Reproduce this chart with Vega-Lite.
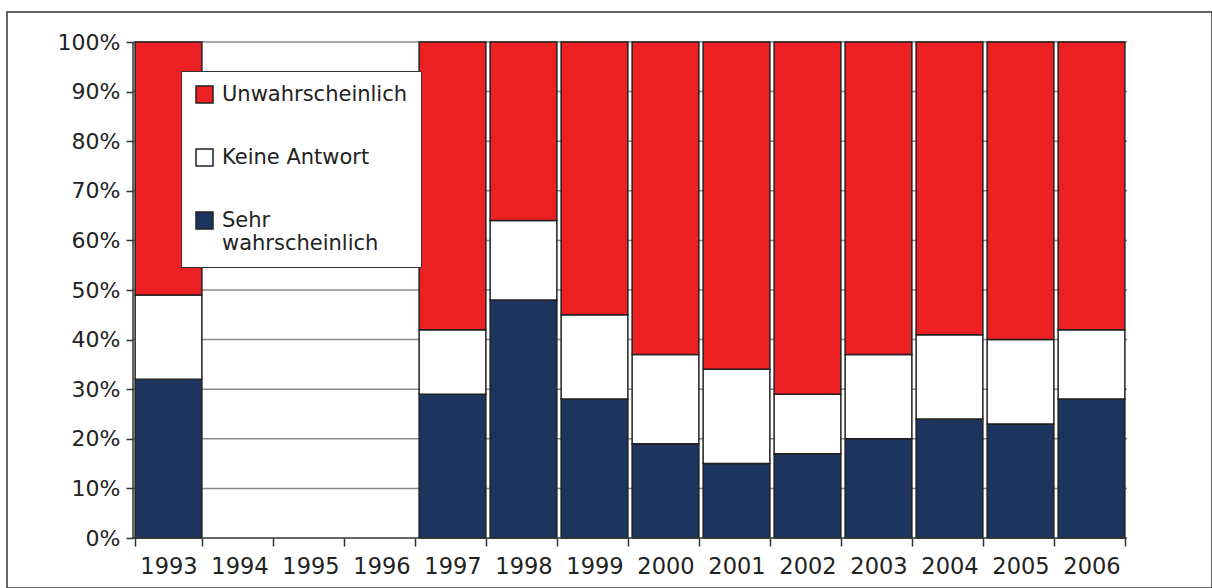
{
  "$schema": "https://vega.github.io/schema/vega-lite/v6.json",
  "width": 1205,
  "height": 576,
  "autosize": {"type": "none"},
  "padding": {"left": 7, "top": 12, "right": 0, "bottom": 0},
  "background": "white",
  "config": {
    "font": "DejaVu Sans",
    "view": {"stroke": "#333333", "strokeWidth": 1.5},
    "axisY": {
      "offset": -126,
      "domain": false,
      "grid": false,
      "tickSize": 7,
      "tickColor": "#333333",
      "tickWidth": 1.5,
      "labelFont": "DejaVu Sans",
      "labelFontSize": 22,
      "labelColor": "#222222",
      "labelPadding": 6,
      "title": null
    },
    "axisX": {
      "offset": -50,
      "domain": false,
      "grid": false,
      "tickBand": "extent",
      "tickSize": 8,
      "tickColor": "#333333",
      "tickWidth": 1.5,
      "labelAngle": 0,
      "labelFont": "DejaVu Sans",
      "labelFontSize": 22.5,
      "labelColor": "#222222",
      "labelPadding": 9,
      "title": null
    }
  },
  "layer": [
    {
      "data": {"values": [{"g": 0.1}, {"g": 0.2}, {"g": 0.3}, {"g": 0.4}, {"g": 0.5}, {"g": 0.6}, {"g": 0.7}, {"g": 0.8}, {"g": 0.9}, {"g": 1.0}]},
      "mark": {"type": "rule", "color": "#8a8a8a", "strokeWidth": 1.5},
      "encoding": {
        "x": {"datum": 0, "type": "quantitative", "scale": {"domain": [-1.774648, 15.197183], "nice": false, "zero": false}, "axis": null},
        "x2": {"datum": 14},
        "y": {"field": "g", "type": "quantitative", "scale": {"domain": [-0.100806, 1.060484], "nice": false, "zero": false}, "title": null}
      }
    },
    {
      "data": {
        "values": [
          {"year": "1993", "cat": "Sehr wahrscheinlich", "rank": 1, "v": 0.32},
          {"year": "1993", "cat": "Keine Antwort", "rank": 2, "v": 0.17},
          {"year": "1993", "cat": "Unwahrscheinlich", "rank": 3, "v": 0.51},
          {"year": "1997", "cat": "Sehr wahrscheinlich", "rank": 1, "v": 0.29},
          {"year": "1997", "cat": "Keine Antwort", "rank": 2, "v": 0.13},
          {"year": "1997", "cat": "Unwahrscheinlich", "rank": 3, "v": 0.58},
          {"year": "1998", "cat": "Sehr wahrscheinlich", "rank": 1, "v": 0.48},
          {"year": "1998", "cat": "Keine Antwort", "rank": 2, "v": 0.16},
          {"year": "1998", "cat": "Unwahrscheinlich", "rank": 3, "v": 0.36},
          {"year": "1999", "cat": "Sehr wahrscheinlich", "rank": 1, "v": 0.28},
          {"year": "1999", "cat": "Keine Antwort", "rank": 2, "v": 0.17},
          {"year": "1999", "cat": "Unwahrscheinlich", "rank": 3, "v": 0.55},
          {"year": "2000", "cat": "Sehr wahrscheinlich", "rank": 1, "v": 0.19},
          {"year": "2000", "cat": "Keine Antwort", "rank": 2, "v": 0.18},
          {"year": "2000", "cat": "Unwahrscheinlich", "rank": 3, "v": 0.63},
          {"year": "2001", "cat": "Sehr wahrscheinlich", "rank": 1, "v": 0.15},
          {"year": "2001", "cat": "Keine Antwort", "rank": 2, "v": 0.19},
          {"year": "2001", "cat": "Unwahrscheinlich", "rank": 3, "v": 0.66},
          {"year": "2002", "cat": "Sehr wahrscheinlich", "rank": 1, "v": 0.17},
          {"year": "2002", "cat": "Keine Antwort", "rank": 2, "v": 0.12},
          {"year": "2002", "cat": "Unwahrscheinlich", "rank": 3, "v": 0.71},
          {"year": "2003", "cat": "Sehr wahrscheinlich", "rank": 1, "v": 0.20},
          {"year": "2003", "cat": "Keine Antwort", "rank": 2, "v": 0.17},
          {"year": "2003", "cat": "Unwahrscheinlich", "rank": 3, "v": 0.63},
          {"year": "2004", "cat": "Sehr wahrscheinlich", "rank": 1, "v": 0.24},
          {"year": "2004", "cat": "Keine Antwort", "rank": 2, "v": 0.17},
          {"year": "2004", "cat": "Unwahrscheinlich", "rank": 3, "v": 0.59},
          {"year": "2005", "cat": "Sehr wahrscheinlich", "rank": 1, "v": 0.23},
          {"year": "2005", "cat": "Keine Antwort", "rank": 2, "v": 0.17},
          {"year": "2005", "cat": "Unwahrscheinlich", "rank": 3, "v": 0.60},
          {"year": "2006", "cat": "Sehr wahrscheinlich", "rank": 1, "v": 0.28},
          {"year": "2006", "cat": "Keine Antwort", "rank": 2, "v": 0.14},
          {"year": "2006", "cat": "Unwahrscheinlich", "rank": 3, "v": 0.58}
        ]
      },
      "mark": {"type": "bar", "stroke": "#231F20", "strokeWidth": 1.5},
      "encoding": {
        "x": {
          "field": "year",
          "type": "nominal",
          "scale": {
            "type": "band",
            "domain": ["pre", "1993", "1994", "1995", "1996", "1997", "1998", "1999", "2000", "2001", "2002", "2003", "2004", "2005", "2006", "post"],
            "paddingInner": 0.06,
            "paddingOuter": 0.5159,
            "align": 0.7798,
            "round": false
          },
          "axis": {"values": ["1993", "1994", "1995", "1996", "1997", "1998", "1999", "2000", "2001", "2002", "2003", "2004", "2005", "2006"]},
          "title": null
        },
        "y": {
          "field": "v",
          "type": "quantitative",
          "stack": "zero",
          "scale": {"domain": [-0.100806, 1.060484], "nice": false, "zero": false},
          "axis": {"values": [0, 0.1, 0.2, 0.3, 0.4, 0.5, 0.6, 0.7, 0.8, 0.9, 1.0], "format": ".0%"},
          "title": null
        },
        "color": {
          "field": "cat",
          "type": "nominal",
          "scale": {
            "domain": ["Unwahrscheinlich", "Keine Antwort", "Sehr wahrscheinlich"],
            "range": ["#ED2024", "#FFFFFF", "#1B355E"]
          },
          "legend": {
            "orient": "none",
            "legendX": 174,
            "legendY": 59,
            "direction": "vertical",
            "title": null,
            "fillColor": "white",
            "strokeColor": "#333333",
            "padding": 13,
            "symbolType": "square",
            "symbolSize": 289,
            "symbolStrokeColor": "#222222",
            "symbolStrokeWidth": 1.5,
            "symbolOpacity": 1,
            "labelFont": "DejaVu Sans",
            "labelFontSize": 21,
            "labelColor": "#222222",
            "labelOffset": 7,
            "labelLimit": 300,
            "rowPadding": 40,
            "labelExpr": "datum.label == 'Sehr wahrscheinlich' ? ['Sehr', 'wahrscheinlich'] : datum.label"
          }
        },
        "order": {"field": "rank", "type": "quantitative"}
      }
    },
    {
      "data": {"values": [{"k": 1}]},
      "layer": [
        {
          "mark": {"type": "rule", "color": "#333333", "strokeWidth": 1.5},
          "encoding": {
            "x": {"datum": 0, "type": "quantitative", "scale": {"domain": [-1.774648, 15.197183], "nice": false, "zero": false}, "axis": null},
            "y": {"datum": 0, "type": "quantitative", "scale": {"domain": [-0.100806, 1.060484], "nice": false, "zero": false}, "title": null},
            "y2": {"datum": 1}
          }
        },
        {
          "mark": {"type": "rule", "color": "#333333", "strokeWidth": 1.5},
          "encoding": {
            "x": {"datum": 0, "type": "quantitative", "scale": {"domain": [-1.774648, 15.197183], "nice": false, "zero": false}, "axis": null},
            "x2": {"datum": 14},
            "y": {"datum": 0, "type": "quantitative", "scale": {"domain": [-0.100806, 1.060484], "nice": false, "zero": false}, "title": null}
          }
        }
      ]
    }
  ],
  "resolve": {"scale": {"x": "independent"}}
}
